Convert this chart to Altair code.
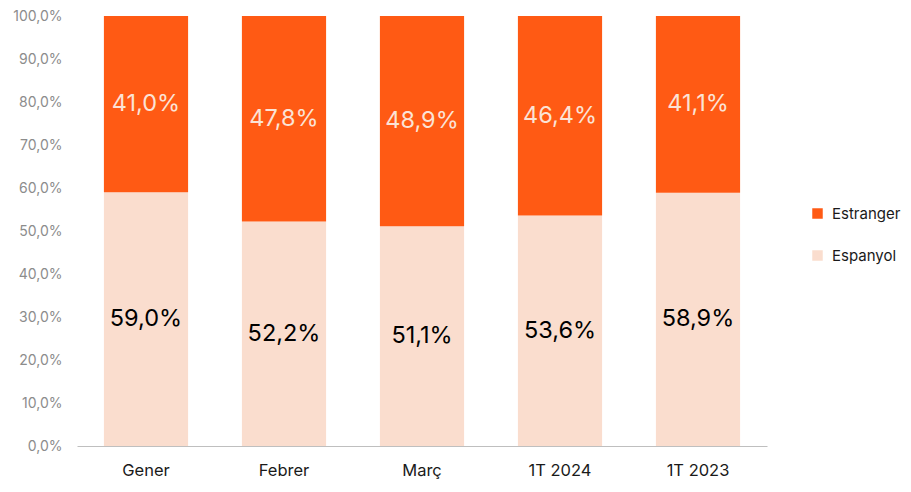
import altair as alt
import pandas as pd

categories = ["Gener", "Febrer", "Març", "1T 2024", "1T 2023"]
espanyol = [59.0, 52.2, 51.1, 53.6, 58.9]
estranger = [41.0, 47.8, 48.9, 46.4, 41.1]
series = ["Estranger", "Espanyol"]
colors = ["#FF5A14", "#FADDCE"]
label_colors = ["#FBE3D6", "#000000"]

rows = []
for i, c in enumerate(categories):
    rows.append({"cat": c, "serie": "Espanyol", "val": espanyol[i], "ord": 0})
    rows.append({"cat": c, "serie": "Estranger", "val": estranger[i], "ord": 1})
df = pd.DataFrame(rows)
df["label"] = df["val"].map(lambda v: f"{v:.1f}".replace(".", ",") + "%")

FONT = "Inter"

base = alt.Chart(df).transform_stack(
    stack="val", groupby=["cat"], as_=["y0", "y1"], sort=[alt.SortField("ord")]
).transform_calculate(mid="(datum.y0 + datum.y1) / 2")

x = alt.X("cat:N", sort=categories, title=None,
          scale=alt.Scale(paddingInner=0.39, paddingOuter=0.195),
          axis=alt.Axis(labelAngle=0, ticks=False, domainColor="#BFBFBF",
                        labelFontSize=16.5, labelColor="#1a1a1a", labelPadding=16,
                        labelFont=FONT))

bars = base.mark_bar().encode(
    x=x,
    y=alt.Y("y0:Q", title=None, scale=alt.Scale(domain=[0, 100]),
            axis=alt.Axis(values=list(range(0, 101, 10)), grid=False, domain=False, ticks=False,
                          labelExpr="replace(format(datum.value, '.1f'), '.', ',') + '%'",
                          labelFontSize=14, labelColor="#8C8C8C", labelPadding=15,
                          labelFont=FONT)),
    y2="y1:Q",
    color=alt.Color("serie:N", scale=alt.Scale(domain=series, range=colors),
                    legend=alt.Legend(title=None, orient="none", legendX=733, legendY=190,
                                      symbolType="square", symbolSize=110, symbolStrokeWidth=0,
                                      labelFontSize=15, labelColor="#1a1a1a", labelFont=FONT,
                                      rowPadding=26, labelOffset=7)),
)

text = base.mark_text(fontSize=23.5, font=FONT, baseline="middle").encode(
    x=alt.X("cat:N", sort=categories),
    y=alt.Y("mid:Q"),
    text="label:N",
    color=alt.Color("serie:N", scale=alt.Scale(domain=series, range=label_colors), legend=None),
)

chart = alt.layer(bars, text).resolve_scale(color="independent").properties(
    width=690, height=430,
    autosize=alt.AutoSizeParams(type="none"),
    padding={"left": 69, "top": 8, "right": 135, "bottom": 37},
).configure_view(stroke=None)

chart.save("out.html", embed_options={"renderer": "svg", "actions": False})
